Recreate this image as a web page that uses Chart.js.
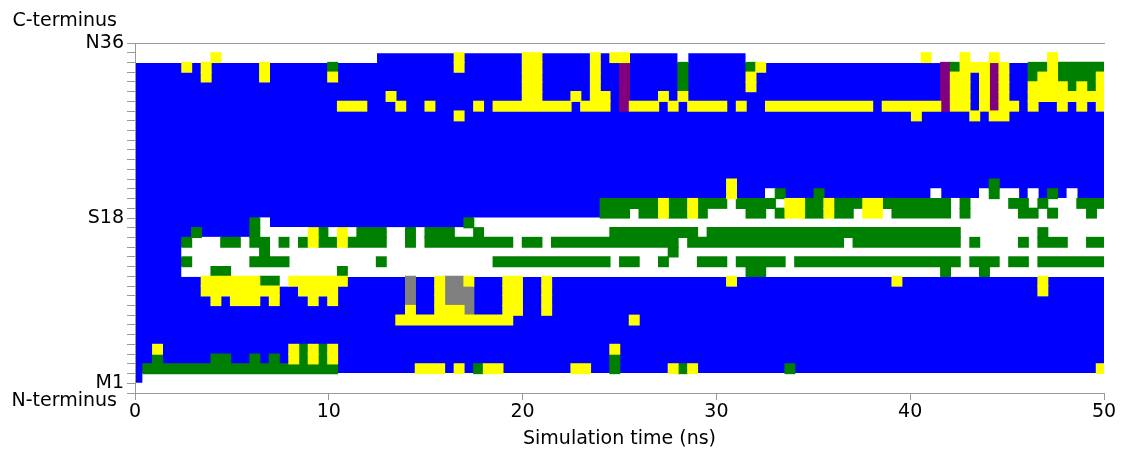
<!DOCTYPE html>
<html>
<head>
<meta charset="utf-8">
<title>Secondary structure vs time</title>
<script src="https://cdn.jsdelivr.net/npm/chart.js@4.4.0/dist/chart.umd.min.js"></script>
<style>
    html, body { margin: 0; padding: 0; background: #fff; }
    #wrap { width: 1130px; height: 455px; position: relative; }
</style>
</head>
<body>
<div id="wrap"><canvas id="dsspChart"></canvas></div>
<script>
// secondary structure code per residue and frame, top row first
// B = alpha helix, W = coil, Y = turn, G = bend, P = 3-10 helix, R = bridge
const stateRows = [
    'WWWWWWWWWW WWWWWWWWWW WWWWWWWWWW WWWWWWWWWW WWWWWWWWWW WWWWWWWWWW WWWWWWWWWW WWWWWWWWWW WWWWWWWWWW WWWWWWWWWW',
    'WWWWWWWWYW WWWWWWWWWW WWWWWBBBBB BBBYBBBBBB YYBBBBBYBY YBBBBBWBBB BBBWWWWWWW WWWWWWWWWW WYWWWYWWYW WWWWYWWWWW',
    'BBBBBYBYBB BBBYBBBBBB GBBBBBBBBB BBBYBBBBBB YYBBBBBYBB PBBBBBGBBB BBBGYBBBBB BBBBBBBBBB BBBPGYYYPY BBGGYGGGGG',
    'BBBBBBBYBB BBBYBBBBBB YBBBBBBBBB BBBBBBBBBB YYBBBBBYBB PBBBBBGBBB BBBYBBBBBB BBBBBBBBBB BBBPYYBYPY BBGYYGGGGY',
    'BBBBBBBBBB BBBBBBBBBB BBBBBBBBBB BBBBBBBBBB YYBBBBBYBB PBBBBBGBBB BBBYBBBBBB BBBBBBBBBB BBBPYYBYPY BBYYYYGYGY',
    'BBBBBBBBBB BBBBBBBBBB BBBBBBYBBB BBBBBBBBBB YYBBBYBYYB PBBBYBYBBB BBBBBBBBBB BBBBBBBBBB BBBPYYBYPY BBYYYYYYYY',
    'BBBBBBBBBB BBBBBBBBBB BYYYBBBYBB YBBBBYBYYY YYYYYBYYYB PYYYBYBYYY YBYBBYYYYY YYYYYYBYYY YYYPYYBYPY YBYBBYBYBY',
    'BBBBBBBBBB BBBBBBBBBB BBBBBBBBBB BBBYBBBBBB BBBBBBBBBB BBBBBBBBBB BBBBBBBBBB BBBBBBBBBB YBBBBBYBYY BBBBBBBBBB',
    'BBBBBBBBBB BBBBBBBBBB BBBBBBBBBB BBBBBBBBBB BBBBBBBBBB BBBBBBBBBB BBBBBBBBBB BBBBBBBBBB BBBBBBBBBB BBBBBBBBBB',
    'BBBBBBBBBB BBBBBBBBBB BBBBBBBBBB BBBBBBBBBB BBBBBBBBBB BBBBBBBBBB BBBBBBBBBB BBBBBBBBBB BBBBBBBBBB BBBBBBBBBB',
    'BBBBBBBBBB BBBBBBBBBB BBBBBBBBBB BBBBBBBBBB BBBBBBBBBB BBBBBBBBBB BBBBBBBBBB BBBBBBBBBB BBBBBBBBBB BBBBBBBBBB',
    'BBBBBBBBBB BBBBBBBBBB BBBBBBBBBB BBBBBBBBBB BBBBBBBBBB BBBBBBBBBB BBBBBBBBBB BBBBBBBBBB BBBBBBBBBB BBBBBBBBBB',
    'BBBBBBBBBB BBBBBBBBBB BBBBBBBBBB BBBBBBBBBB BBBBBBBBBB BBBBBBBBBB BBBBBBBBBB BBBBBBBBBB BBBBBBBBBB BBBBBBBBBB',
    'BBBBBBBBBB BBBBBBBBBB BBBBBBBBBB BBBBBBBBBB BBBBBBBBBB BBBBBBBBBB BBBBBBBBBB BBBBBBBBBB BBBBBBBBBB BBBBBBBBBB',
    'BBBBBBBBBB BBBBBBBBBB BBBBBBBBBB BBBBBBBBBB BBBBBBBBBB BBBBBBBBBB BYBBBBBBBB BBBBBBBBBB BBBBBBBBGB BBBBBBBBBB',
    'BBBBBBBBBB BBBBBBBBBB BBBBBBBBBB BBBBBBBBBB BBBBBBBBBB BBBBBBBBBB BYBBBWGBBB GBBBBBBBBB BBWBBBBWGW WBWBGBWBBB',
    'BBBBBBBBBB BBBBBBBBBB BBBBBBBBBB BBBBBBBBBB BBBBBBBBGG GGGGYGGYGG GWGGGGWYYG GYGGGYYGGG GGGGWGWWWW GGWGWWWGGG',
    'BBBBBBBBBB BBBBBBBBBB BBBBBBBBBB BBBBBBBBBB BBBBBBBBGG GWGGYGGYGW WWWGGWGYYG GYGGWYYWGG GGGGWGWWWW WGGWGWWWGW',
    'BBBBBBBBBB BBGWBBBBBB BBBBBBBBBB BBBBGWWWWW WWWWWWWWWW WWWWWWWWWW WWWWWWWWWW WWWWWWWWWW WWWWWWWWWW WWWWWWWWWW',
    'BBBBBBGBBB BBGWWWWWYG WYWGGGWWGW GGGWWGWWWW WWWWWWWWWG GGGGGGGGWG GGGGGGGGGG GGGGGGGGGG GGGGGWWWWW WWWGWWWWWW',
    'BBBBBGWWWG GWGGWGWGYG GYGGGGWWGW GGGGGGGGGW GGWGGGGGGG GGGGGGWGGG GGGGGGGGGG GGGWGGGGGG GGGGGWGWWW WGWGGGWWGG',
    'BBBBBWWWWW WWWGWWWWWW WWWWWWWWWW WWWWWWWWWW WWWWWWWWWW WWWWWGWWWW WWWWWWWWWW WWWWWWWWWW WWWWWWWWWW WWWWWWWWWW',
    'BBBBBGWWWW WWGGGGWWWW WWWWWGWWWW WWWWWWWGGG GGGGGGGGGW GGWWGWWWGG GWGGGGGWGG GGGGGGGGGG GGGGGWGGGW GGWGGGGGGG',
    'BBBBBWWWGG WWWWWWWWWW WGWWWWWWWW WWWWWWWWWW WWWWWWWWWW WWWWWWWWWW WWWGGWWWWW WWWWWWWWWW WWWGWWWGWW WWWWWWWWWW',
    'BBBBBBBYYY YYYGGWYYYY YYBBBBBBRB BYRRYBBBYY BBYBBBBBBB BBBBBBBBBB BYBBBBBBBB BBBBBBBBYB BBBBBBBBBB BBBYBBBBBB',
    'BBBBBBBYYY YYYYYBBYYY YBBBBBBBRB BYRRRBBBYY BBYBBBBBBB BBBBBBBBBB BBBBBBBBBB BBBBBBBBBB BBBBBBBBBB BBBYBBBBBB',
    'BBBBBBBBYB YYYBYBBBYB YBBBBBBBRB BYRRRBBBYY BBYBBBBBBB BBBBBBBBBB BBBBBBBBBB BBBBBBBBBB BBBBBBBBBB BBBBBBBBBB',
    'BBBBBBBBBB BBBBBBBBBB BBBBBBBBYB BYYYRBBBYY BBYBBBBBBB BBBBBBBBBB BBBBBBBBBB BBBBBBBBBB BBBBBBBBBB BBBBBBBBBB',
    'BBBBBBBBBB BBBBBBBBBB BBBBBBBYYY YYYYYYYYYB BBBBBBBBBB BYBBBBBBBB BBBBBBBBBB BBBBBBBBBB BBBBBBBBBB BBBBBBBBBB',
    'BBBBBBBBBB BBBBBBBBBB BBBBBBBBBB BBBBBBBBBB BBBBBBBBBB BBBBBBBBBB BBBBBBBBBB BBBBBBBBBB BBBBBBBBBB BBBBBBBBBB',
    'BBBBBBBBBB BBBBBBBBBB BBBBBBBBBB BBBBBBBBBB BBBBBBBBBB BBBBBBBBBB BBBBBBBBBB BBBBBBBBBB BBBBBBBBBB BBBBBBBBBB',
    'BBYBBBBBBB BBBBBBYGYG YBBBBBBBBB BBBBBBBBBB BBBBBBBBBY BBBBBBBBBB BBBBBBBBBB BBBBBBBBBB BBBBBBBBBB BBBBBBBBBB',
    'BBGBBBBBGG BBGBGBYGYG YBBBBBBBBB BBBBBBBBBB BBBBBBBBBG BBBBBBBBBB BBBBBBBBBB BBBBBBBBBB BBBBBBBBBB BBBBBBBBBB',
    'BGGGGGGGGG GGGGGGGGGG GBBBBBBBBY YYBYBGYYBB BBBBBYYBBG BBBBBYGYBB BBBBBBBGBB BBBBBBBBBB BBBBBBBBBB BBBBBBBBBY',
    'BWWWWWWWWW WWWWWWWWWW WWWWWWWWWW WWWWWWWWWW WWWWWWWWWW WWWWWWWWWW WWWWWWWWWW WWWWWWWWWW WWWWWWWWWW WWWWWWWWWW',
    'WWWWWWWWWW WWWWWWWWWW WWWWWWWWWW WWWWWWWWWW WWWWWWWWWW WWWWWWWWWW WWWWWWWWWW WWWWWWWWWW WWWWWWWWWW WWWWWWWWWW'
];

const stateCodes = ['B', 'Y', 'G', 'P', 'R', 'W'];
const stateNames = ['A-Helix', 'Turn', 'Bend', '3-Helix', 'Bridge', 'Coil'];
const stateColors = ['#0000ff', '#ffff00', '#008000', '#800080', '#808080', '#ffffff'];

// frames in ns (first frame starts just before t = 0)
const frameStart = -0.092;
const frameStep = 0.502;

const timeTicks = [0, 10, 20, 30, 40, 50];
const residueTicks = [1, 18, 36];
const residueNames = ['M1', 'S18', 'N36'];

const FONT = '"DejaVu Sans", "Lucida Grande", sans-serif';
const AXIS_GREY = '#999999';

// every run of equal frames in a row becomes one floating bar
function buildRuns(code) {
    const runs = [];
    stateRows.forEach((line, i) => {
        const cells = line.replace(/ /g, '');
        const y = stateRows.length - 1 - i + 0.5;
        let k = 0;
        while (k < cells.length) {
            let end = k;
            while (end + 1 < cells.length && cells[end + 1] === cells[k]) end++;
            if (cells[k] === code) {
                runs.push({ x: [frameStart + k * frameStep, frameStart + (end + 1) * frameStep], y: y });
            }
            k = end + 1;
        }
    });
    return runs;
}

const datasets = stateCodes.map((code, s) => ({
    label: stateNames[s],
    data: buildRuns(code),
    backgroundColor: stateColors[s],
    borderWidth: 0,
    grouped: false,
    barPercentage: 1,
    categoryPercentage: 1,
    inflateAmount: 0.6,
    order: code === 'B' ? 1 : 0
}));

// N/C-terminus captions beside the residue axis
const terminusLabels = {
    id: 'terminusLabels',
    afterDraw(chart) {
        const { ctx, scales: { y } } = chart;
        ctx.save();
        ctx.font = '19px ' + FONT;
        ctx.fillStyle = '#000';
        ctx.textAlign = 'right';
        ctx.textBaseline = 'middle';
        ctx.fillText('C-terminus', y.right - 18, y.getPixelForValue(36) - 22);
        ctx.fillText('N-terminus', y.right - 18, y.getPixelForValue(0) + 8);
        ctx.restore();
    }
};

Chart.defaults.font.family = FONT;
Chart.defaults.font.size = 19;
Chart.defaults.color = '#000';

// axis lines sit above the cells
const axisBorder = { color: AXIS_GREY, z: 1 };

const ctx = document.getElementById('dsspChart').getContext('2d');
const dsspChart = new Chart(ctx, {
    type: 'bar',
    data: { datasets: datasets },
    plugins: [terminusLabels],
    options: {
        indexAxis: 'y',
        animation: false,
        responsive: true,
        maintainAspectRatio: false,
        layout: { padding: { left: 0, right: 26, top: 0, bottom: 0 } },
        plugins: {
            legend: { display: false },
            tooltip: { enabled: false }
        },
        scales: {
            x: {
                type: 'linear',
                position: 'bottom',
                min: 0,
                max: 50,
                afterBuildTicks: s => { s.ticks = timeTicks.map(v => ({ value: v })); },
                ticks: { padding: 1, maxRotation: 0 },
                grid: { drawOnChartArea: false, tickLength: 7, color: AXIS_GREY },
                border: axisBorder,
                title: {
                    display: true,
                    text: 'Simulation time (ns)',
                    font: { size: 19 },
                    padding: { top: 0, bottom: 5 }
                },
                afterFit: s => { s.height = 62; }
            },
            xTop: {
                type: 'linear',
                position: 'top',
                min: 0,
                max: 50,
                ticks: { display: false },
                grid: { display: false },
                border: axisBorder,
                afterFit: s => { s.height = 43; }
            },
            y: {
                type: 'linear',
                min: 0,
                max: 36,
                offset: false,
                ticks: {
                    stepSize: 1,
                    autoSkip: false,
                    padding: 3,
                    callback: v => {
                        const i = residueTicks.indexOf(v);
                        return i >= 0 ? residueNames[i] : '';
                    }
                },
                grid: { drawOnChartArea: false, offset: false, tickLength: 8, color: AXIS_GREY },
                border: axisBorder,
                afterFit: s => { s.width = 135; }
            }
        }
    }
});
</script>
</body>
</html>
